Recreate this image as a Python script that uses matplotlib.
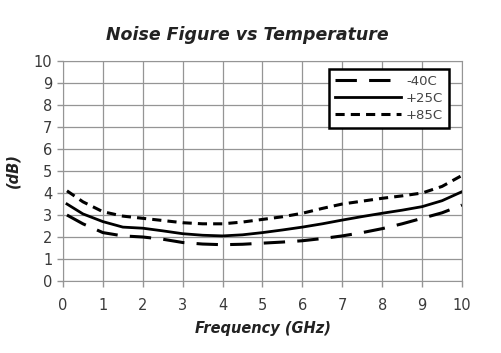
import numpy as np
import matplotlib.pyplot as plt

# Frequency points (GHz) and noise figure (dB)
freq = [0.1, 0.5, 1, 1.5, 2, 2.5, 3, 3.5, 4, 4.5, 5, 5.5, 6, 6.5, 7, 7.5, 8, 8.5, 9, 9.5, 10]
nf_m40 = [3.0, 2.6, 2.2, 2.05, 2.0, 1.9, 1.75, 1.68, 1.65, 1.67, 1.72, 1.77, 1.83, 1.93, 2.05, 2.2, 2.38, 2.6, 2.85, 3.1, 3.45]
nf_p25 = [3.5, 3.05, 2.7, 2.45, 2.4, 2.28, 2.15, 2.08, 2.05, 2.1, 2.2, 2.32, 2.45, 2.6, 2.77, 2.93, 3.08, 3.22, 3.38, 3.65, 4.06]
nf_p85 = [4.1, 3.6, 3.15, 2.95, 2.85, 2.75, 2.65, 2.6, 2.6, 2.68, 2.8, 2.92, 3.08, 3.3, 3.5, 3.63, 3.76, 3.87, 4.0, 4.3, 4.8]
labels = ["-40C", "+25C", "+85C"]

fig = plt.figure(figsize=(5.01, 3.53), dpi=100)
ax = fig.add_axes([0.1257, 0.204, 0.7964, 0.623])

ax.plot(freq, nf_m40, color="black", lw=2.2, dashes=(7, 4), label=labels[0])
ax.plot(freq, nf_p25, color="black", lw=2.0, label=labels[1])
ax.plot(freq, nf_p85, color="black", lw=2.2, dashes=(3, 2), label=labels[2])

ax.set_xlim(0, 10)
ax.set_ylim(0, 10)
ax.set_xticks(np.arange(0, 11, 1))
ax.set_yticks(np.arange(0, 11, 1))
ax.grid(color="#959595", lw=0.9)
for s in ax.spines.values():
    s.set_color("#959595")
ax.tick_params(colors="#959595", labelcolor="#3a3a3a", labelsize=10.5, length=4, width=1)
ax.tick_params(axis="x", pad=8)

fig.text(0.493, 0.90, "Noise Figure vs Temperature", fontsize=12.5, fontweight="bold", style="italic",
         color="#222222", ha="center", va="center")
ax.set_xlabel("Frequency (GHz)", fontsize=10.5, fontweight="bold", style="italic", color="#222222", labelpad=6)
ax.set_ylabel("(dB)", fontsize=10.5, fontweight="bold", style="italic", color="#222222", labelpad=10)

leg = ax.legend(loc="upper right", bbox_to_anchor=(0.968, 0.965), frameon=True, fancybox=False,
                handlelength=5.0, fontsize=9.5, borderpad=0.45, labelspacing=0.3, handletextpad=0.4,
                borderaxespad=0)
leg.get_frame().set_edgecolor("black")
leg.get_frame().set_linewidth(1.8)
leg.get_frame().set_alpha(1)
for t in leg.get_texts():
    t.set_color("#444444")

fig.savefig("out.png", dpi=100)
